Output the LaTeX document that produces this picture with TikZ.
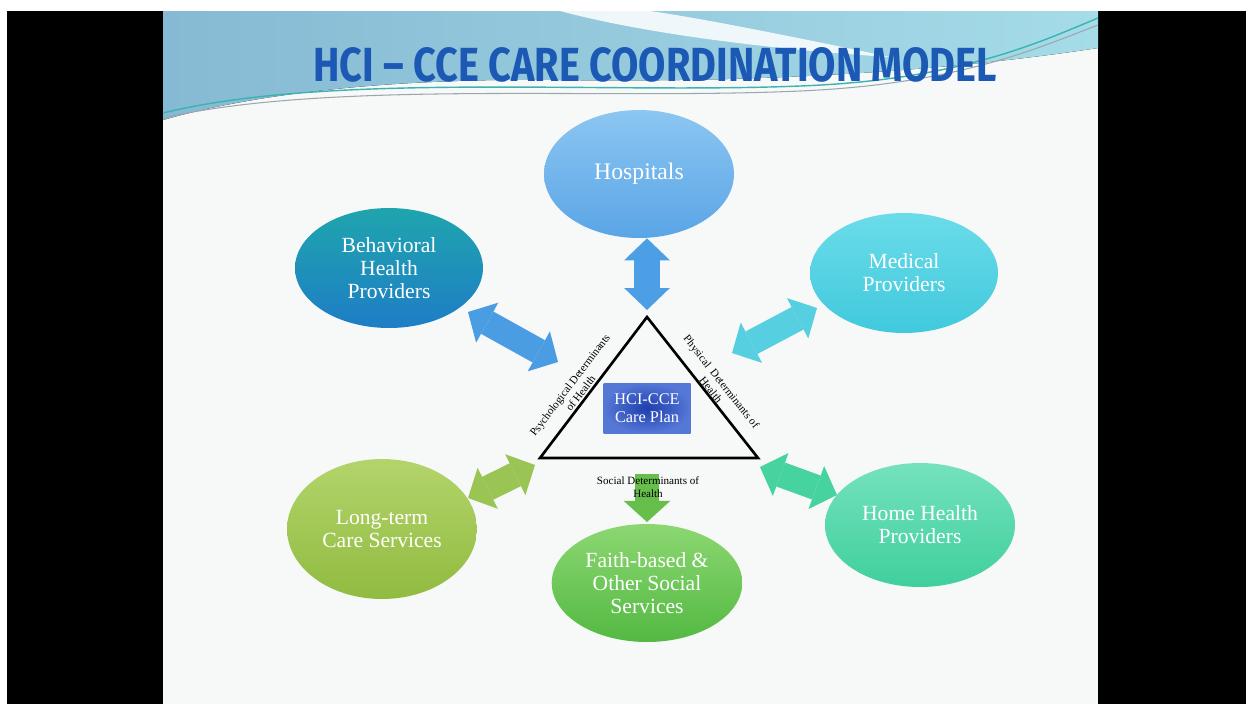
\documentclass[tikz,border=0pt]{standalone}
\usepackage{fontspec}
\setmainfont{Liberation Serif}
\newfontfamily\titlefont{Fira Sans}
\usepackage{graphicx}
\usepackage{tikz}
\usetikzlibrary{shapes,arrows}
\usetikzlibrary{positioning}
\usetikzlibrary{arrows.meta}
\tikzset{>=stealth}
\definecolor{slidebg}{HTML}{F7F8F8}
\definecolor{headA}{HTML}{86B9D3}
\definecolor{headB}{HTML}{A5DCE8}
\definecolor{swooshA}{HTML}{3BB3B0}
\definecolor{swooshB}{HTML}{9AA8AE}
\definecolor{titleblue}{HTML}{1C59B5}
\definecolor{hospTop}{HTML}{8CC6F2}
\definecolor{hospBot}{HTML}{5AA5E6}
\definecolor{behTop}{HTML}{1FA5AD}
\definecolor{behBot}{HTML}{1E7DC6}
\definecolor{medTop}{HTML}{6BDCE9}
\definecolor{medBot}{HTML}{40C9DD}
\definecolor{homeTop}{HTML}{74E2BD}
\definecolor{homeBot}{HTML}{40CF9D}
\definecolor{longTop}{HTML}{B3D46B}
\definecolor{longBot}{HTML}{90BB40}
\definecolor{faithTop}{HTML}{8CD772}
\definecolor{faithBot}{HTML}{53B942}
\definecolor{hospArr}{HTML}{4C9FE5}
\definecolor{behArr}{HTML}{4A9CE3}
\definecolor{medArr}{HTML}{56CFE1}
\definecolor{longArr}{HTML}{9AC453}
\definecolor{homeArr}{HTML}{47D39F}
\definecolor{socArr}{HTML}{66BE4B}
\definecolor{planIn}{HTML}{1E3FAE}
\definecolor{planOut}{HTML}{5577D6}
\tikzstyle{link} = [draw, 
line width=14.5pt, 
{Triangle[length=12.5pt,width=26pt,line width=0pt]}-{Triangle[length=12.5pt,width=26pt,line width=0pt]}]
\tikzstyle{flow} = [draw, 
line width=14pt, 
-{Triangle[length=12pt,width=26.5pt,line width=0pt]}]

\begin{document}
\begin{tikzpicture}[x=0.02cm, y=-0.02cm,
		bubble/.style={ellipse, minimum width=3.76cm, minimum height=2.4cm,
			text=white, align=center, font=\fontsize{12.3}{13}\selectfont},
		detlabel/.style={font=\fontsize{6.3}{7.6}\selectfont, align=center, inner sep=1pt},
		plan/.style={rectangle, minimum width=1.74cm, minimum height=1cm,
			inner color=planIn, outer color=planOut, text=white, align=center,
			font=\fontsize{9.3}{10}\selectfont}]
		\useasboundingbox (0,0) rectangle (1253,704);
		%% Slide
		\fill [white] (0,0) rectangle (1253,704);
		\fill [black] (7,11) rectangle (163,704);
		\fill [black] (1098,11) rectangle (1246,704);
		\fill [slidebg] (163,11) rectangle (1098,704);
		%% Header
		\fill [left color=headA, right color=headB] (163,11) -- (1098,11) -- (1098,48) .. controls (900,78) and (700,82) .. (560,80) .. controls (400,78) and (260,92) .. (163,120) -- cycle;
		\fill [white, opacity=.85] (560,11) .. controls (650,35) and (780,50) .. (890,57) .. controls (800,38) and (700,18) .. (650,11) -- cycle;
		\draw [swooshA, line width=0.8pt] (163,113) .. controls (330,72) and (600,94) .. (800,86) .. controls (960,80) and (1040,42) .. (1098,18);
		\draw [swooshB, line width=0.6pt] (163,118) .. controls (330,80) and (600,100) .. (800,91) .. controls (960,84) and (1040,47) .. (1098,25);
		\node [inner sep=0, text=titleblue] at (655,65) (title) {\resizebox{13.68cm}{0.68cm}{\titlefont\bfseries HCI – CCE CARE COORDINATION MODEL}};
		%% Partners
		\node [bubble, minimum width=3.8cm, minimum height=2.56cm, top color=hospTop, bottom color=hospBot, font=\fontsize{13.5}{14}\selectfont] at (639,174) (hosp) {\raisebox{-3pt}{Hospitals}};
		\node [bubble, top color=behTop, bottom color=behBot] at (389,268) (beh) {Behavioral\\Health\\Providers};
		\node [bubble, top color=medTop, bottom color=medBot] at (904,273) (med) {Medical\\Providers};
		\node [bubble, minimum width=3.8cm, minimum height=2.48cm, top color=homeTop, bottom color=homeBot] at (920,525) (home) {Home Health\\Providers};
		\node [bubble, minimum width=3.8cm, minimum height=2.8cm, top color=longTop, bottom color=longBot] at (382,529) (long) {Long-term\\Care Services};
		\node [bubble, minimum height=2.36cm, top color=faithTop, bottom color=faithBot] at (647,583) (faith) {Faith-based \&\\Other Social\\Services};
		%% Arrow ends
		\coordinate (apex) at (647,317);
		\coordinate (bl) at (540,458);
		\coordinate (br) at (758,458);
		\coordinate (behA) at (468,312);
		\coordinate (behB) at (558,362);
		\coordinate (medA) at (817,308);
		\coordinate (medB) at (732,353);
		\coordinate (longA) at (468,498);
		\coordinate (longB) at (535,465);
		\coordinate (homeA) at (760,467);
		\coordinate (homeB) at (837,495);
		\coordinate (socA) at (647,474);
		\coordinate (socB) at (647,522);
		%% Links
		\path [link, color=hospArr, shorten >=4pt] (hosp.south -| apex) to (apex);
		\path [link, color=behArr] (behA) to (behB);
		\path [link, color=medArr] (medA) to (medB);
		\path [link, color=longArr] (longA) to (longB);
		\path [link, color=homeArr] (homeA) to (homeB);
		\path [flow, color=socArr] (socA) to (socB);
		%% Care plan
		\draw [line width=1.5pt] (bl) -- node [detlabel, sloped, above, pos=0.43] (psy) {Psychological Determinants\\of Health} (apex) -- node [detlabel, sloped, above, pos=0.54, inner sep=0pt] (phy) {Physical\ \ Determinants of\\Health} (br) -- cycle;
		\node [detlabel] at (648,487) (soc) {Social Determinants of\\Health};
		\node [plan] at (647,408) (plan) {HCI-CCE\\Care Plan};
	\end{tikzpicture}
\end{document}
